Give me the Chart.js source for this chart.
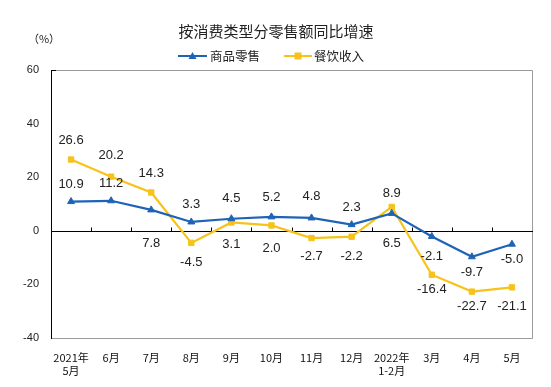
<!DOCTYPE html>
<html><head><meta charset="utf-8">
<script src="https://cdn.jsdelivr.net/npm/chart.js@4"></script>
<style>html,body{margin:0;padding:0;background:#fff}#wrap{width:551px;height:387px}</style>
</head><body><div id="wrap"><canvas id="c" width="551" height="387"></canvas></div>
<script>
const categories = [['2021年','5月'],'6月','7月','8月','9月','10月','11月','12月',['2022年','1-2月'],'3月','4月','5月'];
const retailGoods = [10.9, 11.2, 7.8, 3.3, 4.5, 5.2, 4.8, 2.3, 6.5, -2.1, -9.7, -5.0];
const catering = [26.6, 20.2, 14.3, -4.5, 3.1, 2.0, -2.7, -2.2, 8.9, -16.4, -22.7, -21.1];
const seriesNames = ['商品零售', '餐饮收入'];
const yTicks = [-40, -20, 0, 20, 40, 60];
const titleText = '按消费类型分零售额同比增速';
const unitText = '（%）';

const BLUE = '#1F63B6', YELLOW = '#F7C31A';
// label vertical offsets (px, negative = above the point)
const labelOffsets = [
  [-17, -17, 34, -18, -20, -19, -22, -17, 30, 20, 16, 15],
  [-19, -21, -19, 20, 22, 23, 18, 20, -14, 15, 15, 19]
];
const FONT_CJK = '"Noto Sans CJK SC", sans-serif';
const FONT_NUM = '"Liberation Sans", Arial, sans-serif';

const decor = {
  id: 'decor',
  beforeDatasetsDraw(chart) {
    const {ctx, chartArea: a, scales: {x, y}} = chart;
    ctx.save();
    ctx.strokeStyle = '#9a9a9a'; ctx.lineWidth = 1;
    ctx.beginPath();
    ctx.moveTo(a.left, a.top + 0.5); ctx.lineTo(a.right + 0.5, a.top + 0.5);
    ctx.lineTo(a.right + 0.5, a.bottom + 0.5); ctx.lineTo(a.left, a.bottom + 0.5);
    ctx.stroke();
    ctx.strokeStyle = '#000';
    ctx.beginPath(); ctx.moveTo(a.left + 0.5, a.top); ctx.lineTo(a.left + 0.5, a.bottom + 1); ctx.stroke();
    ctx.beginPath();
    ctx.moveTo(a.left, a.top + 0.5); ctx.lineTo(a.left + 5, a.top + 0.5);
    ctx.stroke();
    const y0 = Math.round(y.getPixelForValue(0)) + 0.5;
    ctx.beginPath(); ctx.moveTo(a.left, y0); ctx.lineTo(a.right + 1, y0); ctx.stroke();
    const n = categories.length;
    for (let i = 1; i < n; i++) {
      const px = Math.round((x.getPixelForValue(i - 1) + x.getPixelForValue(i)) / 2) + 0.5;
      ctx.beginPath(); ctx.moveTo(px, y0); ctx.lineTo(px, y0 - 4); ctx.stroke();
    }
    ctx.restore();
  },
  afterDatasetsDraw(chart) {
    const {ctx} = chart;
    ctx.save();
    ctx.font = '13px ' + FONT_NUM;
    ctx.fillStyle = '#222';
    ctx.textAlign = 'center'; ctx.textBaseline = 'middle';
    chart.data.datasets.forEach((ds, di) => {
      const meta = chart.getDatasetMeta(di);
      meta.data.forEach((pt, i) => {
        ctx.fillText(ds.data[i].toFixed(1), pt.x, pt.y + labelOffsets[di][i]);
      });
    });
    ctx.fillStyle = '#222';
    ctx.font = '15px ' + FONT_CJK;
    ctx.fillText(titleText, 276, 31);
    ctx.font = '11px ' + FONT_CJK;
    ctx.fillText(unitText, 44, 39);
    const items = [
      {x1: 178, x2: 207, color: BLUE, shape: 'tri', tx: 210},
      {x1: 284, x2: 312, color: YELLOW, shape: 'sq', tx: 314}
    ];
    const ly = 56;
    items.forEach((it, k) => {
      ctx.strokeStyle = it.color; ctx.lineWidth = 2;
      ctx.beginPath(); ctx.moveTo(it.x1, ly); ctx.lineTo(it.x2, ly); ctx.stroke();
      const cx = (it.x1 + it.x2) / 2;
      ctx.fillStyle = it.color;
      if (it.shape === 'tri') {
        ctx.beginPath(); ctx.moveTo(cx, ly - 4); ctx.lineTo(cx + 4, ly + 3); ctx.lineTo(cx - 4, ly + 3); ctx.closePath(); ctx.fill();
      } else {
        ctx.fillRect(cx - 3.5, ly - 3.5, 7, 7);
      }
      ctx.fillStyle = '#222';
      ctx.textAlign = 'left';
      ctx.font = '12.5px ' + FONT_CJK;
      ctx.fillText(seriesNames[k], it.tx, ly);
    });
    ctx.restore();
  }
};

new Chart(document.getElementById('c'), {
  type: 'line',
  data: {
    labels: categories,
    datasets: [
      {label: seriesNames[0], data: retailGoods, borderColor: BLUE, backgroundColor: BLUE,
       borderWidth: 2.2, pointStyle: 'triangle', pointRadius: 4, pointBorderWidth: 1, tension: 0},
      {label: seriesNames[1], data: catering, borderColor: YELLOW, backgroundColor: YELLOW,
       borderWidth: 2.2, pointStyle: 'rect', pointRadius: 3.8, pointBorderWidth: 1, tension: 0}
    ]
  },
  options: {
    responsive: false, animation: false,
    layout: {padding: {top: 70, right: 19, left: 0, bottom: 0}},
    plugins: {legend: {display: false}, title: {display: false}, tooltip: {enabled: false}},
    scales: {
      x: {
        offset: true,
        grid: {display: false, drawTicks: false, offset: true}, border: {display: false},
        ticks: {font: {family: FONT_CJK, size: 11}, color: '#111', padding: 13, maxRotation: 0, autoSkip: false},
        afterFit(s) { s.height = 49; }
      },
      y: {
        min: -40, max: 60,
        afterBuildTicks(s) { s.ticks = yTicks.map(v => ({value: v})); },
        grid: {display: false, drawTicks: false}, border: {display: false},
        ticks: {font: {family: FONT_NUM, size: 11}, color: '#222', padding: 12},
        afterFit(s) { s.width = 51; }
      }
    }
  },
  plugins: [decor]
});
</script></body></html>
